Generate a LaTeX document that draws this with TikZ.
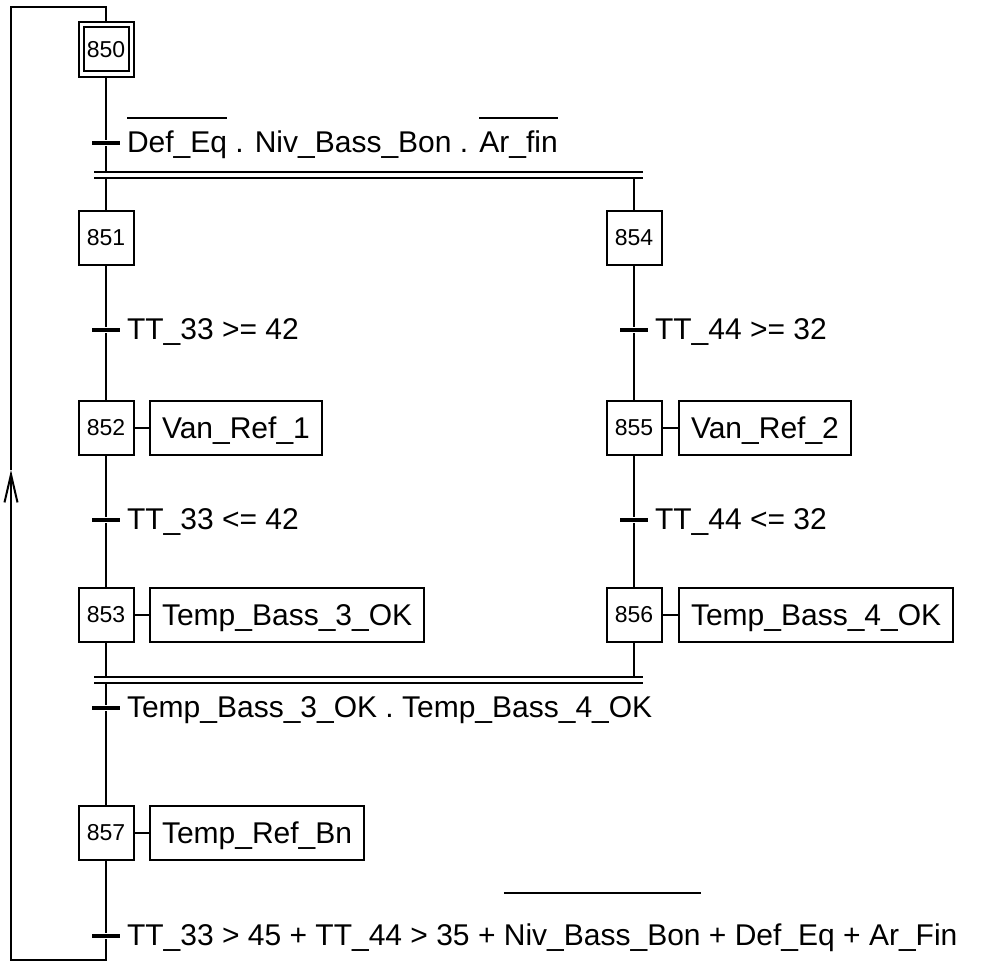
\documentclass[tikz,border=0pt]{standalone}
\usepackage{fontspec}
\setmainfont{Liberation Sans}
\usetikzlibrary{arrows.meta}
\newcommand\ovl[2][1.1em]{\setbox0=\hbox{#2}\rlap{\raisebox{#1}{\rule{\wd0}{2pt}}}\box0\relax}
\begin{document}
\begin{tikzpicture}[x=1pt,y=-1pt,line width=2pt,
  stepbox/.style={draw,minimum width=55pt,minimum height=54pt,inner sep=0pt,font=\fontsize{23}{25}\selectfont},
  actbox/.style={draw,minimum height=54pt,inner xsep=12pt,inner ysep=0pt,anchor=west,text height=21.5pt,text depth=0pt,font=\fontsize{30}{34}\selectfont},
  tick/.style={fill=black,draw=none,minimum width=28pt,minimum height=4.5pt,inner sep=0pt},
  lbl/.style={anchor=base west,inner sep=0pt,font=\fontsize{30}{34}\selectfont}]
\useasboundingbox (0,0) rectangle (984,963);
% initial step
\node[stepbox,minimum width=55pt,minimum height=55pt] (s850) at (106,49.5) {};
\node[stepbox,minimum width=45pt,minimum height=44pt] (s850i) at (106,49.5) {850};
% steps left
\node[stepbox] (s851) at (106,237.5) {851};
\node[stepbox] (s852) at (106,428) {852};
\node[stepbox] (s853) at (106,615) {853};
\node[stepbox] (s857) at (106,833) {857};
% steps right
\node[stepbox] (s854) at (634,237.5) {854};
\node[stepbox] (s855) at (634,428) {855};
\node[stepbox] (s856) at (634,615) {856};
% actions
\node[actbox] (a852) at (149,428) {Van\_Ref\_1};
\node[actbox] (a853) at (149,615) {Temp\_Bass\_3\_OK};
\node[actbox] (a857) at (149,833) {Temp\_Ref\_Bn};
\node[actbox] (a855) at (678,428) {Van\_Ref\_2};
\node[actbox] (a856) at (678,615) {Temp\_Bass\_4\_OK};
\draw (s852.east) -- (a852.west);
\draw (s853.east) -- (a853.west);
\draw (s857.east) -- (a857.west);
\draw (s855.east) -- (a855.west);
\draw (s856.east) -- (a856.west);
% transitions
\node[tick] (t1) at (106,143) {};
\node[tick] (t2) at (106,330) {};
\node[tick] (t3) at (106,520) {};
\node[tick] (t4) at (634,330) {};
\node[tick] (t5) at (634,520) {};
\node[tick] (t6) at (106,708) {};
\node[tick] (t7) at (106,936) {};
\node[lbl] (l1) at (126,152) {\ovl{Def\_Eq} . Niv\_Bass\_Bon . \ovl{Ar\_fin}};
\node[lbl] (l2) at (126,339) {TT\_33 >= 42};
\node[lbl] (l3) at (126,529) {TT\_33 <= 42};
\node[lbl] (l4) at (654,339) {TT\_44 >= 32};
\node[lbl] (l5) at (654,529) {TT\_44 <= 32};
\node[lbl] (l6) at (126,717) {Temp\_Bass\_3\_OK . Temp\_Bass\_4\_OK};
\node[lbl] (l7) at (126,945) {TT\_33 > 45 + TT\_44 > 35 + \ovl[1.7em]{Niv\_Bass\_Bon} + Def\_Eq + Ar\_Fin};
% simultaneous bars
\coordinate (b1a) at (94,172);
\coordinate (b1b) at (643,172);
\coordinate (b1c) at (94,177.5);
\coordinate (b1d) at (643,177.5);
\coordinate (b2a) at (94,677);
\coordinate (b2b) at (643,677);
\coordinate (b2c) at (94,683);
\coordinate (b2d) at (643,683);
\draw (b1a) -- (b1b);
\draw (b1c) -- (b1d);
\draw (b2a) -- (b2b);
\draw (b2c) -- (b2d);
% vertical links
\draw (s850.south) -- (t1) -- (s850.south |- b1a);
\draw (s851.north |- b1c) -- (s851.north);
\draw (s854.north |- b1c) -- (s854.north);
\draw (s851.south) -- (t2) -- (s852.north);
\draw (s852.south) -- (t3) -- (s853.north);
\draw (s854.south) -- (t4) -- (s855.north);
\draw (s855.south) -- (t5) -- (s856.north);
\draw (s853.south) -- (s853.south |- b2a);
\draw (s856.south) -- (s856.south |- b2a);
\draw (s857.north |- b2c) -- (t6) -- (s857.north);
% loop back
\coordinate (lb) at (106,960);
\coordinate (lbl) at (11,960);
\coordinate (arr) at (11,470);
\coordinate (lt) at (11,7);
\coordinate (ltr) at (106,7);
\draw[-{Straight Barb[length=28pt,width=13pt]}] (s857.south) -- (t7) -- (lb) -- (lbl) -- (arr);
\draw (arr) -- (lt) -- (ltr) -- (s850.north);
\end{tikzpicture}
\end{document}
